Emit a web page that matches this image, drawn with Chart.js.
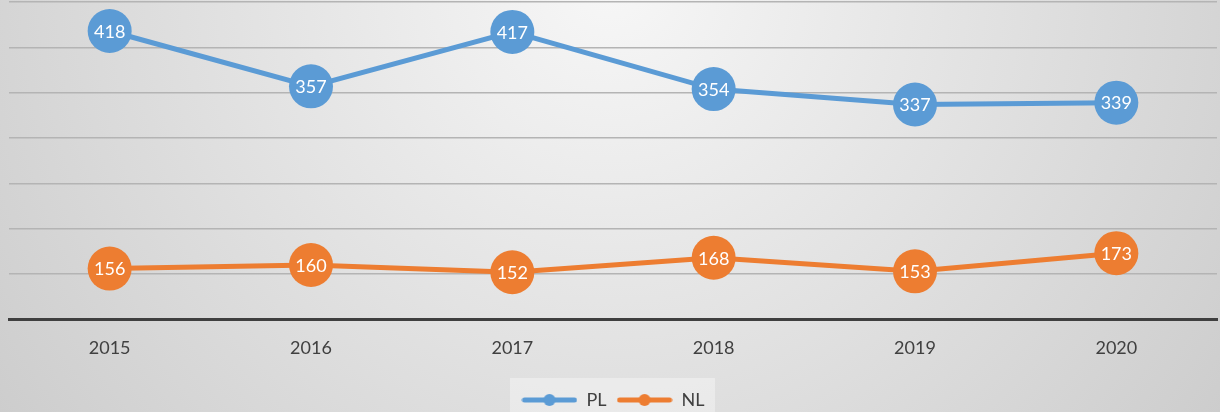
<!DOCTYPE html>
<html>
<head>
<meta charset="utf-8">
<script src="https://cdn.jsdelivr.net/npm/chart.js@4/dist/chart.umd.min.js"></script>
<style>
  html, body { margin: 0; padding: 0; background: #dcdcdc; }
  #wrap { width: 1220px; height: 412px; }
</style>
</head>
<body>
<div id="wrap"><canvas id="c" width="1220" height="412"></canvas></div>
<script>
const years = ['2015', '2016', '2017', '2018', '2019', '2020'];
const plValues = [418, 357, 417, 354, 337, 339];
const nlValues = [156, 160, 152, 168, 153, 173];
const blue = '#5B9BD5';
const orange = '#ED7D31';

// legend marker: line with a dot in the middle
function marker(color) {
  const cv = document.createElement('canvas');
  cv.width = 56; cv.height = 14;
  const g = cv.getContext('2d');
  g.strokeStyle = color; g.lineWidth = 5; g.lineCap = 'round';
  g.beginPath(); g.moveTo(3, 7); g.lineTo(53, 7); g.stroke();
  g.fillStyle = color;
  g.beginPath(); g.arc(28, 7, 6, 0, Math.PI * 2); g.fill();
  return cv;
}

const bgPlugin = {
  id: 'bg',
  beforeDraw(chart) {
    const ctx = chart.ctx;
    const grad = ctx.createRadialGradient(610, -20, 0, 610, -20, 820);
    grad.addColorStop(0, '#f7f7f7');
    grad.addColorStop(1, '#c9c9c9');
    ctx.save();
    ctx.fillStyle = grad;
    ctx.fillRect(0, 0, chart.width, chart.height);
    ctx.fillStyle = 'rgba(255,255,255,0.35)';
    ctx.fillRect(510, 378, 205, chart.height - 378);
    ctx.restore();
  }
};

const labelPlugin = {
  id: 'valueLabels',
  afterDatasetsDraw(chart) {
    const ctx = chart.ctx;
    ctx.save();
    ctx.font = '18px Lato';
    ctx.fillStyle = '#ffffff';
    ctx.textAlign = 'center';
    ctx.textBaseline = 'middle';
    chart.data.datasets.forEach((ds, i) => {
      chart.getDatasetMeta(i).data.forEach((pt, j) => {
        ctx.fillText(String(ds.data[j]), pt.x, pt.y + 1);
      });
    });
    ctx.restore();
  }
};

new Chart(document.getElementById('c').getContext('2d'), {
  type: 'line',
  data: {
    labels: years,
    datasets: [
      { label: 'PL', data: plValues, borderColor: blue, backgroundColor: blue,
        borderWidth: 5, pointRadius: 22, pointHoverRadius: 22, pointBorderWidth: 0,
        tension: 0, clip: false },
      { label: 'NL', data: nlValues, borderColor: orange, backgroundColor: orange,
        borderWidth: 5, pointRadius: 22, pointHoverRadius: 22, pointBorderWidth: 0,
        tension: 0, clip: false }
    ]
  },
  options: {
    responsive: false,
    animation: false,
    layout: { autoPadding: false, padding: { left: 9, right: 3, top: 2, bottom: -7 } },
    scales: {
      x: {
        offset: true,
        grid: { display: false },
        border: { display: true, color: '#3f3f3f', width: 3 },
        ticks: { color: '#404040', font: { family: 'Lato', size: 18 }, padding: 10 },
        afterFit(scale) { scale.height += 12; }
      },
      y: {
        min: 100, max: 450,
        ticks: { display: false, stepSize: 50 },
        border: { display: false },
        grid: { color: '#b4b4b4', lineWidth: 1.5, drawTicks: false }
      }
    },
    plugins: {
      legend: {
        position: 'bottom',
        labels: {
          color: '#404040',
          font: { family: 'Lato', size: 18 },
          usePointStyle: true,
          pointStyleWidth: 56,
          padding: 10,
          generateLabels(chart) {
            return chart.data.datasets.map((ds, i) => ({
              text: ds.label,
              fontColor: '#404040',
              pointStyle: marker(ds.borderColor),
              datasetIndex: i,
              lineWidth: 0,
              strokeStyle: 'transparent',
              fillStyle: ds.borderColor
            }));
          }
        }
      },
      tooltip: { enabled: false }
    }
  },
  plugins: [bgPlugin, labelPlugin]
});
</script>
</body>
</html>
